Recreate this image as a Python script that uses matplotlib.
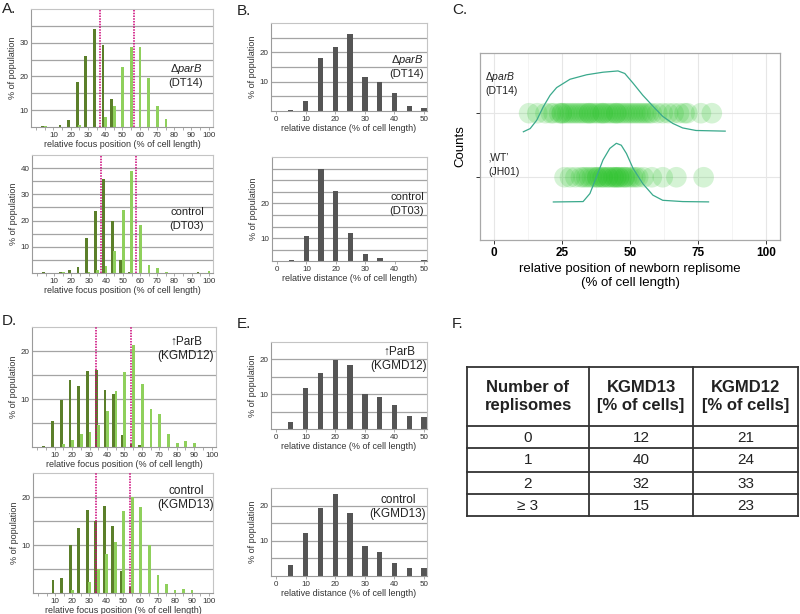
import numpy as np
import matplotlib
matplotlib.use("Agg")
import matplotlib.pyplot as plt

plt.rcParams['font.family'] = ['Liberation Sans', 'DejaVu Sans']
plt.rcParams['mathtext.fontset'] = 'custom'
plt.rcParams['mathtext.rm'] = 'Liberation Sans'
plt.rcParams['mathtext.it'] = 'Liberation Sans:italic'

# ---- data ----
# focus position histograms (bins of 5 % cell length)
focus_bins = np.arange(4.5, 100, 5)
a_top_dark = [5.3, 0, 5.7, 7.0, 18.3, 26.2, 34.2, 29.3, 13.4, 0, 0, 0, 0, 0, 0, 0, 0, 0, 0, 0]
a_top_light = [5.2, 0, 0, 0, 5.7, 0, 0, 8.0, 11.1, 22.7, 28.8, 28.8, 19.6, 11.1, 7.5, 0, 0, 0, 0, 0]
a_bot_dark = [0.5, 0, 0.2, 1.0, 2.3, 13.4, 23.8, 35.8, 19.7, 5.1, 0.3, 0, 0, 0, 0, 0, 0, 0, 0.4, 0]
a_bot_light = [0, 0, 0.3, 0, 0, 0.3, 1.0, 2.8, 8.5, 24.2, 38.9, 18.4, 3.2, 1.8, 0.5, 0, 0, 0, 0, 0.7]
d_top_dark = [0.3, 5.4, 9.7, 14.0, 12.8, 15.9, 16.1, 11.9, 11.0, 2.6, 0.7, 0.4, 0, 0, 0, 0, 0, 0, 0, 0]
d_top_light = [0, 0, 0.6, 1.5, 2.8, 3.1, 4.5, 7.6, 11.7, 15.7, 21.2, 13.1, 7.9, 6.8, 2.7, 0.8, 1.2, 0.9, 0, 0]
d_bot_dark = [0, 2.7, 3.2, 10.0, 13.5, 17.3, 14.9, 18.2, 14.0, 4.5, 1.3, 0, 0, 0, 0, 0, 0, 0, 0, 0]
d_bot_light = [0, 0, 0, 0.6, 0, 2.3, 5.1, 8.1, 10.7, 17.0, 20.0, 17.9, 10.0, 3.7, 1.8, 0.6, 0.9, 0.6, 0, 0]
a_top_lines = [37.0, 56.7]
a_bot_lines = [37.5, 57.8]
d_lines = [33.7, 53.9]

# distance histograms
dist_bins = [5, 10, 15, 20, 25, 30, 35, 40, 45, 50]
b_top = [0.35, 3.4, 18.1, 21.8, 26.4, 11.6, 9.9, 6.1, 1.6, 1.1]
b_bot = [3.8, 10.7, 30.0, 23.6, 11.4, 5.5, 4.5, 0, 0, 3.8]
e_top = [2.1, 11.9, 16.0, 19.7, 18.3, 10.2, 9.1, 7.0, 3.8, 3.4]
e_bot = [3.0, 12.3, 19.3, 23.3, 17.9, 8.4, 6.8, 3.7, 2.4, 2.2]

# newborn replisome positions (panel C)
dparb_x = [13, 16, 19, 21, 22, 24, 25, 25, 26, 27, 28, 29, 30, 31, 32, 33, 34, 35, 35, 36,
           37, 38, 39, 40, 40, 41, 42, 43, 44, 45, 45, 46, 47, 48, 49, 50, 51, 52, 53, 54,
           55, 56, 57, 58, 60, 62, 64, 66, 68, 70, 71, 76, 80]
wt_x = [26, 28, 30, 32, 33, 34, 35, 36, 37, 38, 38, 39, 40, 40, 41, 42, 42, 43, 44, 44,
        45, 45, 46, 46, 47, 48, 48, 49, 50, 51, 52, 53, 55, 58, 62, 67, 77]
dparb_curve_x = [10.9, 13.4, 15.8, 18.2, 20.7, 23.1, 28.0, 34.1, 40.1, 45.6, 48.1, 51.1,
                 54.7, 58.4, 62.0, 65.7, 69.3, 74.2, 84.9]
dparb_curve_y = [1.71, 1.76, 1.89, 2.10, 2.28, 2.40, 2.53, 2.60, 2.64, 2.66, 2.62, 2.47,
                 2.28, 2.11, 1.95, 1.84, 1.77, 1.73, 1.72]
wt_curve_x = [21.9, 32.8, 35.3, 37.7, 40.1, 42.6, 45.0, 46.8, 48.7, 51.1, 54.7, 58.4, 62.0, 69.3, 78.8]
wt_curve_y = [0.614, 0.62, 0.745, 1.005, 1.27, 1.45, 1.53, 1.50, 1.37, 1.14, 0.90, 0.72, 0.64, 0.62, 0.615]

# table F
table_header = ['Number of\nreplisomes', 'KGMD13\n[% of cells]', 'KGMD12\n[% of cells]']
n_replisomes = ['0', '1', '2', '\u2265 3']
kgmd13 = [12, 40, 32, 15]
kgmd12 = [21, 24, 33, 23]

DARK = '#5b7f2a'
LIGHT = '#8fd05c'
GREY_BAR = '#555555'
MAGENTA = '#cc0077'

W, H = 800, 614
fig = plt.figure(figsize=(8, 6.14), dpi=100)


def px_axes(l, t, r, b):
    return fig.add_axes([l / W, 1 - b / H, (r - l) / W, (b - t) / H])


def px_text(x, y, s, **kw):
    fig.text(x / W, 1 - y / H, s, **kw)


def excel_style(ax, ylim, ylab, ygrid, xlim, xticks):
    ax.set_xlim(*xlim)
    ax.set_ylim(*ylim)
    ax.set_yticks(ylab)
    ax.set_yticks(ygrid, minor=True)
    ax.grid(True, axis='y', which='both', color='#a4a4a4', lw=0.9)
    ax.set_axisbelow(True)
    for s in ['top', 'right']:
        ax.spines[s].set_color('#c4c4c4')
        ax.spines[s].set_linewidth(0.8)
    for s in ['left', 'bottom']:
        ax.spines[s].set_color('#9a9a9a')
        ax.spines[s].set_linewidth(0.8)
    ax.tick_params(axis='y', which='both', length=0, labelsize=5.8, labelcolor='#333333', pad=2)
    ax.set_xticks(xticks)
    ax.tick_params(axis='x', length=2, width=0.5, color='#888888', labelsize=5.8,
                   labelcolor='#333333', pad=1.5)
    ax.set_ylabel('% of population', fontsize=6.5, color='#333333', labelpad=2)


def focus_panel(box, dark, light, ylim, ylab, ygrid, lines):
    ax = px_axes(*box)
    ax.bar(focus_bins - 0.7, dark, width=1.6, color=DARK, zorder=2)
    ax.bar(focus_bins + 0.7, light, width=1.6, color=LIGHT, zorder=3)
    for v in lines:
        ax.axvline(v, color=MAGENTA, lw=1.1, ls=(0, (1, 0.8)), zorder=4)
    excel_style(ax, ylim, ylab, ygrid, (-3, 102.5), range(10, 101, 10))
    ax.set_xticks(np.arange(0, 101, 5), minor=True)
    ax.tick_params(axis='x', which='minor', length=2, width=0.5, color='#888888')
    ax.set_xlabel('relative focus position (% of cell length)', fontsize=6.5,
                  color='#333333', labelpad=1)
    return ax


def dist_panel(box, vals, ylim, ylab, ygrid):
    ax = px_axes(*box)
    ax.bar(dist_bins, vals, width=1.8, color=GREY_BAR, zorder=2)
    excel_style(ax, ylim, ylab, ygrid, (-1.7, 51), range(0, 51, 10))
    ax.set_xlabel('relative distance (% of cell length)', fontsize=6.5,
                  color='#333333', labelpad=1)
    return ax


def strain_label(x, y1, y2, l1, l2, size=8, ha='center'):
    px_text(x, y1, l1, fontsize=size, ha=ha, va='center', color='#222222')
    px_text(x, y2, l2, fontsize=size, ha=ha, va='center', color='#222222')


# ---- A ----
focus_panel((31, 9, 213, 127), a_top_dark, a_top_light, (5, 40), [10, 20, 30], [15, 25, 35], a_top_lines)
strain_label(186, 69, 83, 'Δ$\\mathit{parB}$', '(DT14)')
focus_panel((32, 155, 213, 273), a_bot_dark, a_bot_light, (0, 45), [10, 20, 30, 40],
            [5, 15, 25, 35], a_bot_lines)
strain_label(187, 212, 226, 'control', '(DT03)')

# ---- B ----
dist_panel((271, 23, 427, 111), b_top, (0, 30), [10, 20], [5, 15, 25])
strain_label(407, 60, 74, 'Δ$\\mathit{parB}$', '(DT14)')
dist_panel((272, 157, 427, 261), b_bot, (3.5, 33.3), [10, 20],
           [20 / 3, 40 / 3, 50 / 3, 70 / 3, 80 / 3, 30])
strain_label(407, 197, 211, 'control', '(DT03)')

# ---- D ----
focus_panel((32, 327, 216, 447), d_top_dark, d_top_light, (0, 25), [10, 20], [5, 15], d_lines)
strain_label(186, 342, 356, '\u2191ParB', '(KGMD12)', size=8.5)
focus_panel((33, 473, 213, 593), d_bot_dark, d_bot_light, (0, 25), [10, 20], [5, 15], d_lines)
strain_label(186, 491, 505, 'control', '(KGMD13)', size=8.5)

# ---- E ----
dist_panel((271, 342, 427, 429), e_top, (0, 25), [10, 20], [5, 15])
strain_label(399, 352, 366, '\u2191ParB', '(KGMD12)', size=8.5)
dist_panel((271, 488, 427, 576), e_bot, (0, 25), [10, 20], [5, 15])
strain_label(398, 500, 514, 'control', '(KGMD13)', size=8.5)

# ---- C ----
axc = px_axes(480, 53, 780, 240)
axc.scatter(dparb_x, [2] * len(dparb_x), s=220, color='#2ec42e', alpha=0.2,
            edgecolors='none', zorder=2)
axc.scatter(wt_x, [1] * len(wt_x), s=220, color='#2ec42e', alpha=0.2,
            edgecolors='none', zorder=2)
axc.plot(dparb_curve_x, dparb_curve_y, color='#3aa98c', lw=0.9, zorder=3)
axc.plot(wt_curve_x, wt_curve_y, color='#3aa98c', lw=0.9, zorder=3)
axc.set_xlim(-5, 105)
axc.set_ylim(0.02, 2.94)
axc.set_xticks([0, 25, 50, 75, 100])
axc.set_xticks([12.5, 37.5, 62.5, 87.5], minor=True)
axc.set_yticks([1, 2])
axc.set_yticklabels([])
axc.grid(True, which='major', color='#e6e6e6', lw=0.8)
axc.grid(True, which='minor', axis='x', color='#f2f2f2', lw=0.6)
axc.set_axisbelow(True)
for s in axc.spines.values():
    s.set_color('#a8a8a8')
    s.set_linewidth(0.9)
axc.tick_params(axis='x', which='major', length=3, width=0.7, color='#333333',
                labelsize=8.5, pad=2)
axc.tick_params(axis='x', which='minor', length=0)
axc.tick_params(axis='y', length=3, width=0.7, color='#333333')
for t in axc.get_xticklabels():
    t.set_fontweight('bold')
axc.set_xlabel('relative position of newborn replisome\n(% of cell length)', fontsize=9.5,
               labelpad=3)
axc.set_ylabel('Counts', fontsize=9.5, labelpad=3)
strain_label(485, 77, 91, 'Δ$\\mathit{parB}$', '(DT14)', size=7.5, ha='left')
strain_label(488, 158, 172, '\u201aWT\u2019', '(JH01)', size=7.5, ha='left')

# ---- F table ----
col_edges = [467, 589, 693, 798]
row_edges = [367, 426, 448, 472, 494, 516]
axt = px_axes(col_edges[0], row_edges[0], col_edges[-1], row_edges[-1])
axt.set_xlim(col_edges[0], col_edges[-1])
axt.set_ylim(row_edges[-1], row_edges[0])
axt.axis('off')
for y in row_edges:
    axt.plot([col_edges[0], col_edges[-1]], [y, y], color='#333333', lw=1.3,
             solid_capstyle='projecting', clip_on=False)
for x in col_edges:
    axt.plot([x, x], [row_edges[0], row_edges[-1]], color='#333333', lw=1.3,
             solid_capstyle='projecting', clip_on=False)
col_mid = [(col_edges[i] + col_edges[i + 1]) / 2 for i in range(3)]
row_mid = [(row_edges[i] + row_edges[i + 1]) / 2 for i in range(5)]
for c, txt in enumerate(table_header):
    axt.text(col_mid[c], row_mid[0], txt, ha='center', va='center', fontsize=12,
             fontweight='bold', color='#222222')
for r in range(4):
    cells = [n_replisomes[r], str(kgmd13[r]), str(kgmd12[r])]
    for c, txt in enumerate(cells):
        axt.text(col_mid[c], row_mid[r + 1] + 0.5, txt, ha='center', va='center',
                 fontsize=11, color='#222222')

# ---- panel letters ----
for x, y, s in [(2, 2, 'A.'), (237, 4, 'B.'), (452, 3, 'C.'),
                (2, 314, 'D.'), (237, 317, 'E.'), (452, 317, 'F.')]:
    px_text(x, y, s, fontsize=11, ha='left', va='top', color='#222222')

fig.savefig('out.png', dpi=100)
